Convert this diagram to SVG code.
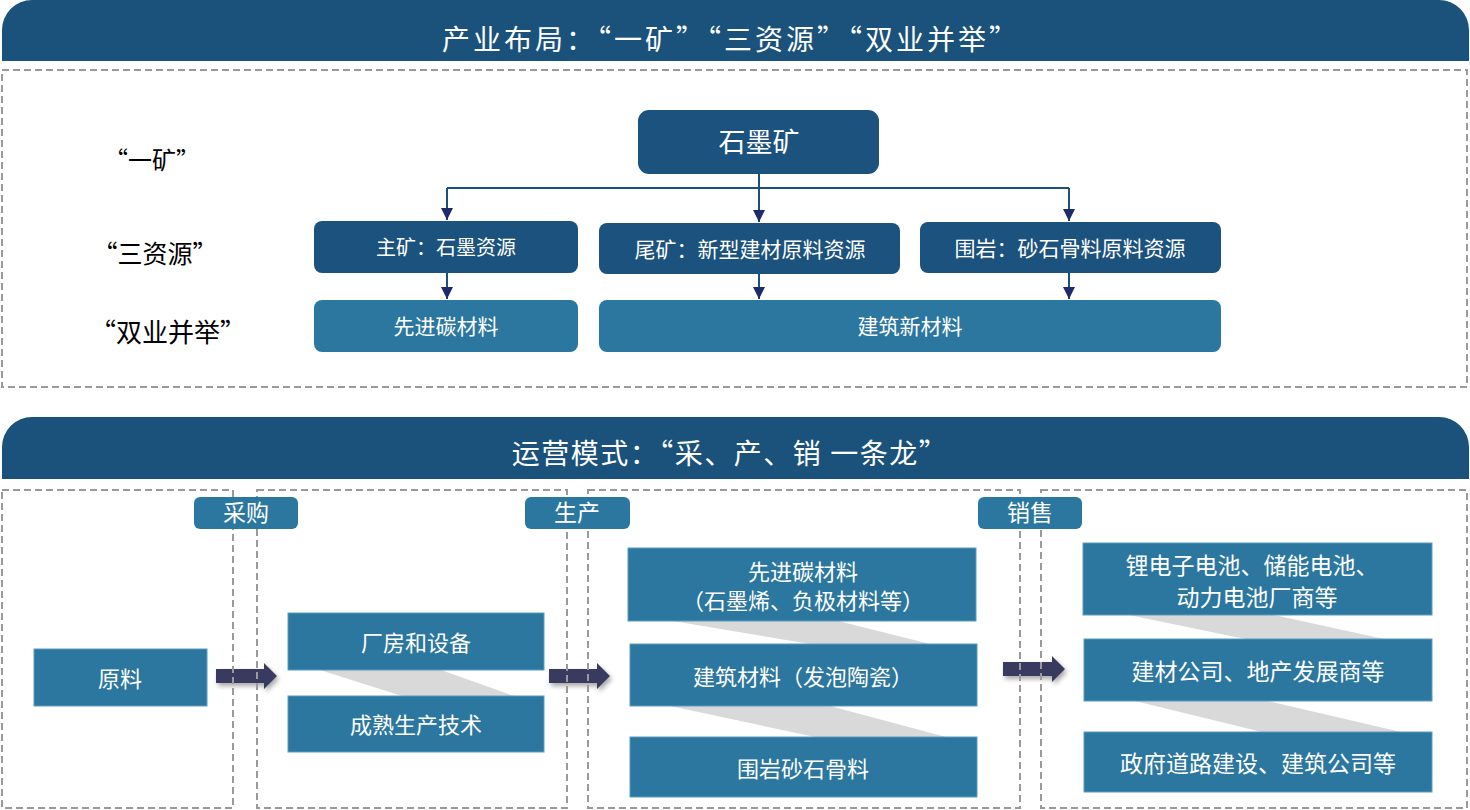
<svg xmlns="http://www.w3.org/2000/svg" width="1470" height="810" viewBox="0 0 1470 810">
<style>
text{font-family:'Liberation Serif','Noto Sans CJK SC',serif;dominant-baseline:central;text-anchor:middle}
.cjk{font-family:'Noto Sans CJK SC','Liberation Serif',serif}
.w{fill:#ffffff}
.k{fill:#000000}
.hdr{fill:#1a527c}
.dk{fill:#1b527e}
.lt{fill:#2b779f}
.lb{fill:#2b779f;stroke:#5d9cc0;stroke-width:1}
.dash{fill:none;stroke:#9a9a9a;stroke-width:2;stroke-dasharray:7,4}
.ln{fill:none;stroke:#1b4f7c;stroke-width:2}
.sh{fill:#d9d9d9}
.big{fill:#393a5e}
</style>
<defs>
<marker id="ah" viewBox="0 0 12 12" refX="12" refY="6" markerWidth="12" markerHeight="12" markerUnits="userSpaceOnUse" orient="auto">
<path d="M0,0 L12,6 L0,12 Z" fill="#1d2a6b"/>
</marker>
<filter id="ds" x="-20%" y="-40%" width="150%" height="200%">
<feGaussianBlur in="SourceAlpha" stdDeviation="2.5"/>
<feOffset dx="2" dy="3" result="b"/>
<feComponentTransfer><feFuncA type="linear" slope="0.35"/></feComponentTransfer>
<feMerge><feMergeNode/><feMergeNode in="SourceGraphic"/></feMerge>
</filter>
</defs>

<g id="header-top">
<path class="hdr" d="M2,61 V30 A30,30 0 0 1 32,0 H1439 A30,30 0 0 1 1469,30 V61 Z"/>
<text class="w cjk" x="731" y="38" font-size="28" letter-spacing="3">产业布局：“一矿”“三资源”“双业并举”</text>
</g>
<rect id="frame-top" class="dash" x="2" y="70" width="1465" height="317"/>

<g id="labels-left">
<text class="k cjk" x="152" y="158" font-size="24">“一矿”</text>
<text class="k cjk" x="155" y="252" font-size="25">“三资源”</text>
<text class="k cjk" x="168" y="330" font-size="26">“双业并举”</text>
</g>

<g id="connectors">
<path class="ln" d="M759,174 V188"/>
<path class="ln" d="M447,188 H1069"/>
<path class="ln" d="M447,188 V220" marker-end="url(#ah)"/>
<path class="ln" d="M759,188 V222" marker-end="url(#ah)"/>
<path class="ln" d="M1069,188 V221" marker-end="url(#ah)"/>
<path class="ln" d="M447,273 V299" marker-end="url(#ah)"/>
<path class="ln" d="M759,274 V299" marker-end="url(#ah)"/>
<path class="ln" d="M1069,273 V299" marker-end="url(#ah)"/>
<polygon class="sh" points="320,670 441,670 514,696 402,696"/>
<polygon class="sh" points="673,621 838,621 930,644 810,644"/>
<polygon class="sh" points="670,706 830,706 946,737 815,737"/>
<polygon class="sh" points="1129,615 1274,615 1384,639 1245,639"/>
<polygon class="sh" points="1135,701 1268,701 1401,732 1262,732"/>
<polygon class="big" filter="url(#ds)" points="216,669 264,669 264,663 277,676 264,689 264,683 216,683"/>
<polygon class="big" filter="url(#ds)" points="549,669 597,669 597,663 610,676 597,689 597,683 549,683"/>
<polygon class="big" filter="url(#ds)" points="1003,662 1052,662 1052,656 1065,669 1052,682 1052,676 1003,676"/>
</g>

<g id="node-shimokuang">
<rect class="dk" x="638" y="110" width="241" height="64" rx="11"/>
<text class="w" x="759" y="143" font-size="27">石墨矿</text>
</g>
<g id="node-zhukuang">
<rect class="dk" x="314" y="221" width="264" height="52" rx="8"/>
<text class="w" x="446" y="248" font-size="20">主矿：石墨资源</text>
</g>
<g id="node-weikuang">
<rect class="dk" x="599" y="223" width="301" height="51" rx="8"/>
<text class="w" x="750" y="250" font-size="21">尾矿：新型建材原料资源</text>
</g>
<g id="node-weiyan">
<rect class="dk" x="920" y="222" width="301" height="51" rx="8"/>
<text class="w" x="1070" y="249" font-size="21">围岩：砂石骨料原料资源</text>
</g>
<g id="node-tan">
<rect class="lt" x="314" y="300" width="264" height="52" rx="8"/>
<text class="w" x="446" y="327" font-size="21">先进碳材料</text>
</g>
<g id="node-jianzhu">
<rect class="lt" x="599" y="300" width="622" height="52" rx="8"/>
<text class="w" x="910" y="327" font-size="21">建筑新材料</text>
</g>

<g id="header-bottom">
<path class="hdr" d="M2,479 V447 A30,30 0 0 1 32,417 H1439 A30,30 0 0 1 1469,447 V479 Z"/>
<text class="w cjk" x="730" y="452" font-size="28" letter-spacing="1.5">运营模式：“采、产、销 一条龙”</text>
</g>

<g id="frames-bottom">
<rect class="dash" x="2" y="490" width="231" height="318"/>
<rect class="dash" x="257" y="490" width="310" height="318"/>
<rect class="dash" x="588" y="490" width="432" height="318"/>
<rect class="dash" x="1041" y="490" width="426" height="318"/>
</g>

<g id="tag-caigou">
<rect class="lt" x="194" y="497" width="104" height="32" rx="6"/>
<text class="w" x="246" y="513" font-size="23">采购</text>
</g>
<g id="tag-shengchan">
<rect class="lt" x="525" y="497" width="105" height="32" rx="6"/>
<text class="w" x="577" y="513" font-size="23">生产</text>
</g>
<g id="tag-xiaoshou">
<rect class="lt" x="978" y="497" width="104" height="32" rx="6"/>
<text class="w" x="1030" y="513" font-size="23">销售</text>
</g>

<g id="node-yuanliao">
<rect class="lb" x="34" y="649" width="173" height="57"/>
<text class="w" x="120" y="679" font-size="22">原料</text>
</g>
<g id="node-changfang">
<rect class="lb" x="288" y="613" width="256" height="57"/>
<text class="w" x="416" y="643" font-size="22">厂房和设备</text>
</g>
<g id="node-jishu">
<rect class="lb" x="288" y="696" width="256" height="56"/>
<text class="w" x="416" y="725" font-size="22">成熟生产技术</text>
</g>
<g id="node-p-tan">
<rect class="lb" x="628" y="548" width="348" height="73"/>
<text class="w" x="803" y="572" font-size="22">先进碳材料</text>
<text class="w" x="803" y="601" font-size="22">（石墨烯、负极材料等）</text>
</g>
<g id="node-p-jianzhu">
<rect class="lb" x="630" y="644" width="347" height="62"/>
<text class="w" x="803" y="677" font-size="22">建筑材料（发泡陶瓷）</text>
</g>
<g id="node-p-weiyan">
<rect class="lb" x="630" y="737" width="347" height="60"/>
<text class="w" x="803" y="769" font-size="22">围岩砂石骨料</text>
</g>
<g id="node-s-dianchi">
<rect class="lb" x="1083" y="543" width="349" height="72"/>
<text class="w" x="1252" y="566" font-size="23">锂电子电池、储能电池、</text>
<text class="w" x="1257" y="598" font-size="23">动力电池厂商等</text>
</g>
<g id="node-s-jiancai">
<rect class="lb" x="1084" y="639" width="348" height="62"/>
<text class="w" x="1258" y="672" font-size="23">建材公司、地产发展商等</text>
</g>
<g id="node-s-zhengfu">
<rect class="lb" x="1084" y="732" width="348" height="60"/>
<text class="w" x="1258" y="764" font-size="23">政府道路建设、建筑公司等</text>
</g>
</svg>
